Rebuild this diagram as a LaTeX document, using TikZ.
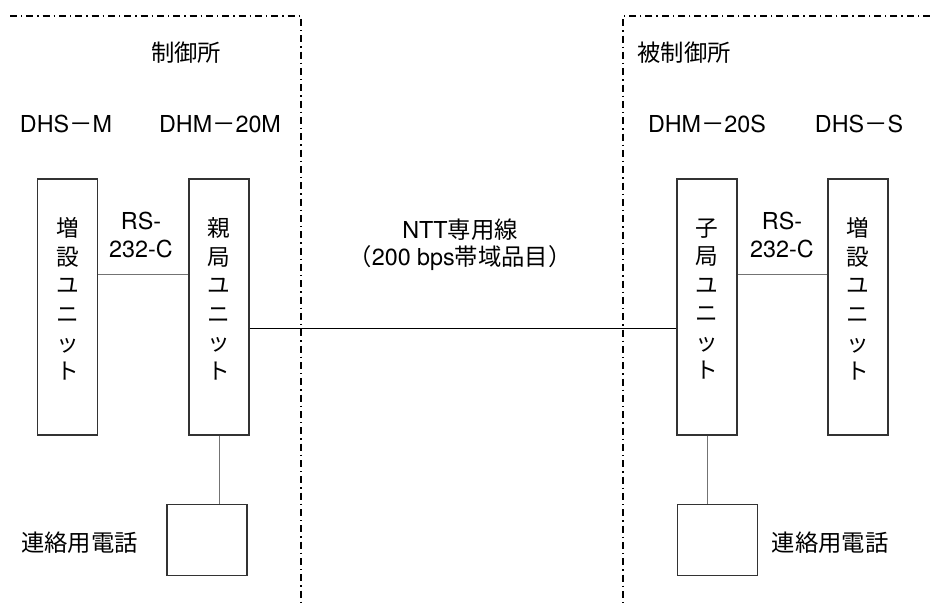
\documentclass[tikz,border=0pt]{standalone}
\usepackage{fontspec}
\setmainfont{TeX Gyre Heros}
\newfontfamily\jp{Noto Sans CJK JP}
\usetikzlibrary{calc}
\definecolor{BoxClr}{rgb}{0.2,0.2,0.2}
\definecolor{WireClr}{rgb}{0.45,0.45,0.45}

\tikzset{
  unitbox/.style={draw=BoxClr,line width=1pt,minimum width=45pt,minimum height=192pt,inner sep=0pt},
  unittext/.style={align=center,font=\jp\fontsize{17pt}{21.4pt}\selectfont},
  telbox/.style={draw=BoxClr,line width=1pt,minimum width=60pt,minimum height=53pt,inner sep=0pt},
  lbl/.style={align=center,font=\fontsize{17.5pt}{20pt}\selectfont},
  model/.style={font=\fontsize{17.5pt}{20pt}\selectfont},
  site/.style={line width=0.8pt,dash pattern=on 5.25pt off 3pt on 1pt off 3pt},
  wire/.style={line width=0.75pt}
}

\begin{document}
\begin{tikzpicture}[x=0.75pt,y=-0.75pt]
\useasboundingbox (0,0) rectangle (930,605);

% site borders
\draw[site] (10,16) -- (301,16) -- (301,605);
\draw[site] (930,16) -- (623,16) -- (623,605);

\node[lbl] (ctl) at (186,53) {\jp 制御所};
\node[lbl] (sub) at (684,53) {\jp 被制御所};

\node[model] (dhsM) at (66,124) {DHS{\jp －}M};
\node[model] (dhmM) at (220,124) {DHM{\jp －}20M};
\node[model] (dhmS) at (707,124) {DHM{\jp －}20S};
\node[model] (dhsS) at (859,124) {DHS{\jp －}S};

% units
\node[unitbox] (extL) at (67.5,307) {};
\node[unitbox] (oya) at (219,307) {};
\node[unitbox] (ko) at (707,307) {};
\node[unitbox] (extR) at (858,307) {};

\node[unittext] at ([yshift=6pt]extL.center) {増\\設\\ユ\\ニ\\ッ\\ト};
\node[unittext] at ([yshift=6pt]oya.center) {親\\局\\ユ\\ニ\\ッ\\ト};
\node[unittext] at ([yshift=6pt]ko.center) {子\\局\\ユ\\ニ\\ッ\\ト};
\node[unittext] at ([yshift=6pt]extR.center) {増\\設\\ユ\\ニ\\ッ\\ト};

% phones
\node[telbox] (telL) at (207,540) {};
\node[telbox] (telR) at (717.5,540) {};
\node[lbl] (telLtxt) at (79.5,543) {\jp 連絡用電話};
\node[lbl] (telRtxt) at (830,543) {\jp 連絡用電話};

% links
\draw[wire,color=WireClr] ([yshift=24pt]extL.east) -- ([yshift=24pt]oya.west);
\draw[wire,color=WireClr] ([yshift=24pt]ko.east) -- ([yshift=24pt]extR.west);
\node[lbl,font=\fontsize{17.5pt}{21pt}\selectfont] (rsL) at (141,235) {RS-\\232-C};
\node[lbl,font=\fontsize{17.5pt}{21pt}\selectfont] (rsR) at (782,235) {RS-\\232-C};

\draw[wire] ([yshift=-16.5pt]oya.east) -- ([yshift=-16.5pt]ko.west);
\node[lbl] (ntt) at (460,245) {NTT{\jp 専用線}\\{\jp （}200 bps{\jp 帯域品目）}};

\draw[wire,color=WireClr] (oya.south) -- (oya.south |- telL.north);
\draw[wire,color=WireClr] (ko.south) -- (ko.south |- telR.north);

\end{tikzpicture}
\end{document}
